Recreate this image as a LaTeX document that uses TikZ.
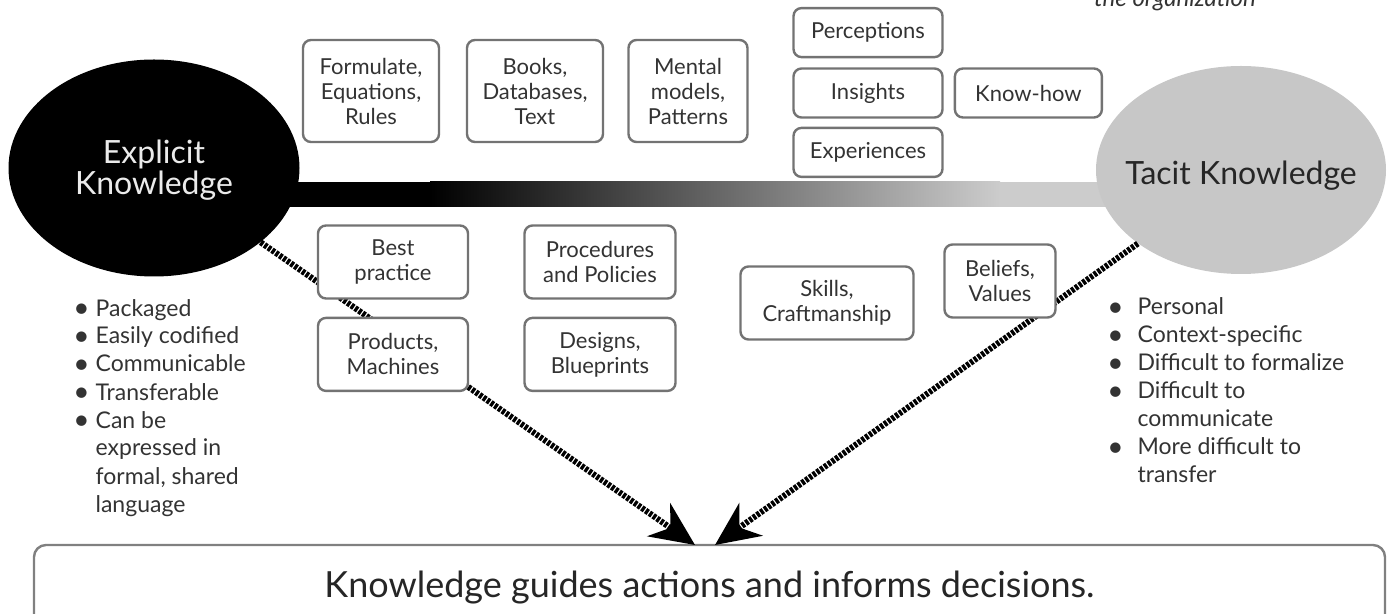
\documentclass[tikz,border=0pt]{standalone}
\usepackage{fontspec}
\setmainfont{Lato}
\usepackage{tikz}
\usetikzlibrary{arrows.meta,shapes.geometric,positioning}
\newcommand{\kdot}{\smash{\raisebox{-0.6pt}{\fontsize{14}{14}\selectfont\textbullet}}}
\tikzset{
	knode/.style = {align=center, inner sep=2pt, text centered, text=black!80},
	kbox/.style = {knode, rectangle, draw=black!55, line width=1.2pt, rounded corners=4pt, fill=white, font=\fontsize{11}{12.5}\selectfont},
	kbox_sq/.style = {kbox, minimum width=68pt, minimum height=51pt},
	kbox_flat/.style = {kbox, minimum width=74.5pt, minimum height=24.5pt},
	kbox_low/.style = {kbox, minimum width=75pt, minimum height=36.5pt},
	kblob/.style = {ellipse, inner sep=0pt, minimum width=145.5pt},
	kblob_txt/.style = {align=center, inner sep=0pt, font=\fontsize{16}{15.5}\selectfont},
	klist/.style = {anchor=north west, align=left, inner sep=0pt, text=black!80, font=\fontsize{11.5}{14}\selectfont},
	ropearrow/.style = {line width=3pt, dash pattern=on 1.6pt off 0.7pt, -{Stealth[length=22pt,width=20pt,inset=7pt]}}
}

\begin{document}
\begin{tikzpicture}[x=0.5pt, y=-0.5pt]
	\useasboundingbox (0,0) rectangle (1392,614);
	% gradient bar between the two kinds of knowledge
	\fill[black] (154,182) rectangle (430,207);
	\shade[left color=black, right color=black!20] (430,182) rectangle (1000,207);
	\fill[black!20] (1000,182) rectangle (1241,207);
	
	\node [kblob, fill=black, minimum height=108.5pt, label={[kblob_txt, text=black!8, yshift=-1pt]center:Explicit\\Knowledge}] (ex) at (154,168) {};
	\node [kblob, fill=black!22, minimum width=145pt, minimum height=104pt, label={[kblob_txt, text=black!85, yshift=-3pt]center:Tacit Knowledge}] (ta) at (1241,170) {};
	
	\node [knode, anchor=base, font=\fontsize{12}{12}\itshape\selectfont] (orgnote) at (1175,7) {the organization};
	
	\node [kbox, draw=black!50, rounded corners=6pt, minimum width=675.5pt, minimum height=43pt, text=black!85, font=\fontsize{18}{20}\selectfont] (guide) at (709.5,588) {Knowledge guides actions and informs decisions.};
	\coordinate (tipL) at (695,545);
	\coordinate (tipR) at (715,545);
	\draw [ropearrow] (ex) -- (tipL);
	\draw [ropearrow] (ta) -- (tipR);
	
	% upper boxes
	\node [kbox_sq] (formula) at (371,91) {Formulate,\\Equations,\\Rules};
	\node [kbox_sq] (books) at (535,91) {Books,\\Databases,\\Text};
	\node [kbox_sq, minimum width=59.5pt] (mental) at (688,91) {Mental\\models,\\Patterns};
	\node [kbox_flat] (insight) at (868,93) {Insights};
	\node [kbox_flat, above=4.5pt of insight] (percept) {Perceptions};
	\node [kbox_flat, below=4pt of insight] (exper) {Experiences};
	\node [kbox_flat, minimum width=73.5pt, right=5pt of insight] (knowhow) {Know-how};
	
	% lower boxes
	\node [kbox_low] (best) at (393,262) {Best\\practice};
	\node [kbox_low, below=8.5pt of best] (product) {Products,\\Machines};
	\node [kbox_low, minimum width=75.5pt] (proc) at (600,262) {Procedures\\and Policies};
	\node [kbox_low, minimum width=75.5pt, below=8.5pt of proc] (design) {Designs,\\Blueprints};
	\node [kbox_low, minimum width=86.5pt] (skill) at (827,303) {Skills,\\Craftmanship};
	\node [kbox_low, minimum width=55.5pt] (belief) at (1000,281) {Beliefs,\\Values};
	
	% properties
	\node [klist] (exlist) at (73,296) {\begin{tabular}{@{}l@{\hspace{3pt}}l@{}}
		\kdot & Packaged\\
		\kdot & Easily codified\\
		\kdot & Communicable\\
		\kdot & Transferable\\
		\kdot & Can be\\
		& expressed in\\
		& formal, shared\\
		& language
	\end{tabular}};
	\node [klist] (talist) at (1107,295) {\begin{tabular}{@{}l@{\hspace{7pt}}l@{}}
		\kdot & Personal\\
		\kdot & Context-specific\\
		\kdot & Difficult to formalize\\
		\kdot & Difficult to\\
		& communicate\\
		\kdot & More difficult to\\
		& transfer
	\end{tabular}};
\end{tikzpicture}
\end{document}
